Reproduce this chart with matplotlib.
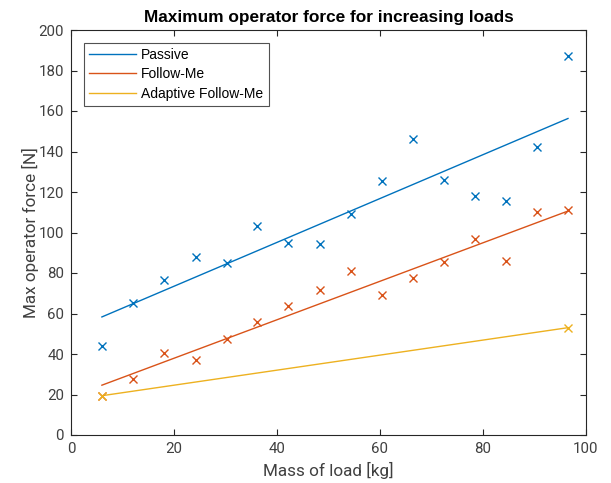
import matplotlib
matplotlib.use("Agg")
import matplotlib.pyplot as plt
import numpy as np

plt.rcParams['font.family'] = ['Roboto', 'DejaVu Sans']

mass = [6.0, 12.1, 18.1, 24.2, 30.2, 36.2, 42.2, 48.3, 54.3, 60.4, 66.4, 72.4, 78.5, 84.5, 90.5, 96.5]
passive = [44.0, 65.0, 76.5, 88.1, 84.8, 103.2, 95.0, 94.2, 109.0, 125.6, 146.0, 126.1, 118.0, 115.7, 142.1, 187.0]
follow = [19.4, 27.5, 40.5, 37.2, 47.2, 56.0, 63.7, 71.6, 81.1, 69.1, 77.4, 85.6, 96.8, 86.1, 110.0, 111.3]
adapt_mass = [6.0, 96.5]
adapt = [19.4, 53.0]

fit_mass = [6.0, 96.5]
passive_fit = [58.3, 156.3]
follow_fit = [24.6, 110.6]
adapt_fit = [19.4, 53.0]

c_blue = '#0072BD'
c_orange = '#D95319'
c_yellow = '#EDB120'
axc = '#262626'
txc = '#404040'

fig = plt.figure(figsize=(6.11, 4.83), dpi=100)
ax = fig.add_axes([71/611, 1-435/483, (586-71)/611, (435-30)/483])

ax.plot(fit_mass, passive_fit, color=c_blue, lw=1, label='Passive')
ax.plot(fit_mass, follow_fit, color=c_orange, lw=1, label='Follow-Me')
ax.plot(fit_mass, adapt_fit, color=c_yellow, lw=1, label='Adaptive Follow-Me')
ax.plot(mass, passive, 'x', color=c_blue, ms=6, mew=1)
ax.plot(mass, follow, 'x', color=c_orange, ms=6, mew=1)
ax.plot(adapt_mass, adapt, 'x', color=c_yellow, ms=6, mew=1)

ax.set_xlim(0, 100)
ax.set_ylim(0, 200)
ax.set_xticks(np.arange(0, 101, 20))
ax.set_yticks(np.arange(0, 201, 20))
ax.tick_params(direction='in', top=True, right=True, length=4, width=0.8,
               colors=axc, labelsize=10.8, labelcolor=txc, pad=5)
for s in ax.spines.values():
    s.set_color(axc)
    s.set_linewidth(0.8)

ax.set_xlabel('Mass of load [kg]', fontsize=12.3, color=txc, labelpad=4)
ax.set_ylabel('Max operator force [N]', fontsize=12.3, color=txc, labelpad=-0.5)
ax.set_title('Maximum operator force for increasing loads', fontsize=12.4,
             fontweight='bold', color='black', pad=6,
             family=['Liberation Sans', 'DejaVu Sans'])

leg = ax.legend(loc='upper left', fontsize=10, frameon=True, fancybox=False,
                edgecolor=axc, handlelength=3.4, borderaxespad=0.9,
                labelspacing=0.38, handletextpad=0.34, borderpad=0.4,
                prop={'family': ['Liberation Sans', 'DejaVu Sans'], 'size': 10})
leg.get_frame().set_linewidth(0.8)
for t in leg.get_texts():
    t.set_color('black')

fig.savefig('out.png', dpi=100)
